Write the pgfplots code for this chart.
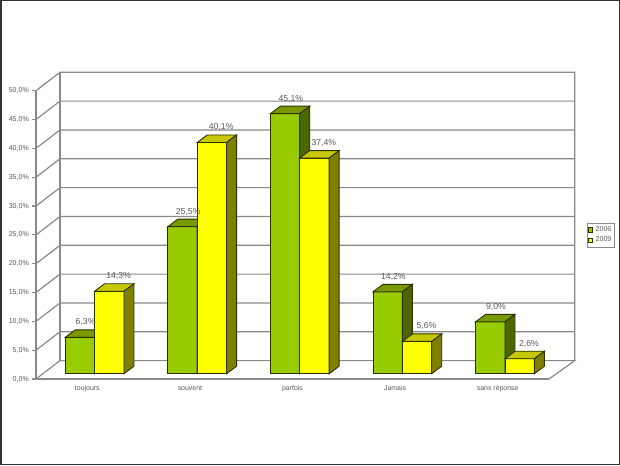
\documentclass[border=0pt]{standalone}
\usepackage{pgfplots}
\usepackage{fontspec}
\setmainfont{Liberation Sans}
\pgfplotsset{compat=1.18}
\definecolor{gridc}{HTML}{8A8A8A}
\definecolor{txt}{HTML}{5A5A5A}
\definecolor{edge}{HTML}{2A3300}
\definecolor{gfront}{HTML}{99CC00}
\definecolor{gtop}{HTML}{7A9900}
\definecolor{gside}{HTML}{4D6600}
\definecolor{yfront}{HTML}{FFFF00}
\definecolor{ytop}{HTML}{C8C800}
\definecolor{yside}{HTML}{808000}
\newlength{\px}\setlength{\px}{0.75pt}
% depth faces of one bar: x of the bar's left edge, value, top colour, side colour
\newcommand{\depthfaces}[4]{%
  \pgfmathsetmacro{\xa}{#1}%
  \pgfmathsetmacro{\xb}{#1+0.2865}%
  \pgfmathsetmacro{\xc}{#1+0.2865+0.0975}%
  \pgfmathsetmacro{\xd}{#1+0.0975}%
  \pgfmathsetmacro{\yt}{#2+1.3}%
  \addplot[forget plot,draw=edge,line width=0.9\px,fill=#3] coordinates {(\xa,#2)(\xb,#2)(\xc,\yt)(\xd,\yt)} -- cycle;
  \addplot[forget plot,draw=edge,line width=0.9\px,fill=#4] coordinates {(\xb,#2)(\xc,\yt)(\xc,1.3)(\xb,0)} -- cycle;
}
\begin{document}
\begin{tikzpicture}[x=\px,y=\px]
\fill[white] (0,0) rectangle (620,465);
\draw[black!80,line width=1.5\px] (0.75,0.75) rectangle (619.25,464.25);
\begin{axis}[
  at={(36\px,86\px)},anchor=south west,
  scale only axis,width=513\px,height=288.3\px,
  xmin=-0.5,xmax=4.5,ymin=0,ymax=50,clip=false,
  axis x line*=bottom,axis y line*=left,
  axis line style={gridc,line width=1.2\px,-},
  tick style={gridc,line width=1.2\px},
  tick align=outside,
  ytick={0,5,...,50},
  major tick length=4.5\px,
  y tick label style={font=\fontsize{5.3pt}{6pt}\selectfont,text=txt,inner sep=0pt,xshift=-2.4\px},
  yticklabel={\pgfmathprintnumber{\tick}\%},
  /pgf/number format/.cd,use comma,fixed,fixed zerofill,precision=1,assume math mode=true,
  /pgfplots/.cd,
  xtick={0,1,2,3,4},
  xticklabels={toujours,souvent,parfois,Jamais,sans réponse},
  x tick label style={font=\fontsize{5.2pt}{6pt}\selectfont,text=txt,inner sep=0pt,yshift=-2\px},
  x tick style={draw=none},
  extra x ticks={-0.5,0.5,1.5,2.5,3.5,4.5},
  extra x tick labels={},
  extra x tick style={tick style={gridc,line width=1.2\px},major tick length=4\px},
]
\addplot[gridc,line width=1.2\px] coordinates {(-0.5,0)(-0.266,3.19)(4.7505,3.19)(4.5,0)};
\addplot[gridc,line width=1.2\px] coordinates {(-0.5,5)(-0.266,8.19)(4.7505,8.19)};
\addplot[gridc,line width=1.2\px] coordinates {(-0.5,10)(-0.266,13.19)(4.7505,13.19)};
\addplot[gridc,line width=1.2\px] coordinates {(-0.5,15)(-0.266,18.19)(4.7505,18.19)};
\addplot[gridc,line width=1.2\px] coordinates {(-0.5,20)(-0.266,23.19)(4.7505,23.19)};
\addplot[gridc,line width=1.2\px] coordinates {(-0.5,25)(-0.266,28.19)(4.7505,28.19)};
\addplot[gridc,line width=1.2\px] coordinates {(-0.5,30)(-0.266,33.19)(4.7505,33.19)};
\addplot[gridc,line width=1.2\px] coordinates {(-0.5,35)(-0.266,38.19)(4.7505,38.19)};
\addplot[gridc,line width=1.2\px] coordinates {(-0.5,40)(-0.266,43.19)(4.7505,43.19)};
\addplot[gridc,line width=1.2\px] coordinates {(-0.5,45)(-0.266,48.19)(4.7505,48.19)};
\addplot[gridc,line width=1.2\px] coordinates {(-0.5,50)(-0.266,53.19)(4.7505,53.19)(4.7505,3.19)};
\addplot[gridc,line width=1.2\px] coordinates {(-0.266,3.19)(-0.266,53.19)};
\end{axis}
\begin{axis}[
  at={(43.3\px,91.3\px)},anchor=south west,
  scale only axis,width=513\px,height=288.3\px,
  xmin=-0.5,xmax=4.5,ymin=0,ymax=50,clip=false,
  hide axis,
  /pgf/number format/.cd,use comma,fixed,fixed zerofill,precision=1,assume math mode=true,
  /pgfplots/.cd,
  legend style={at={(543.4\px,151\px)},anchor=north west,draw=gridc,line width=0.8\px,
    fill=white,font=\fontsize{5.3pt}{6pt}\selectfont,text=txt,inner sep=0.6\px,
    row sep=-1.6\px,column sep=0pt,cells={anchor=west}},
  legend cell align=left,
]
\addplot[ybar,bar width=0.2865,bar shift=-0.1433,draw=edge,line width=0.9\px,fill=gfront,
  nodes near coords={\pgfmathprintnumber{\pgfplotspointmeta}\%},
  every node near coord/.style={font=\fontsize{6.5pt}{7pt}\selectfont,text=txt,inner sep=0pt,
    anchor=south,xshift=-9\px,yshift=11\px},
  legend image code/.code={\draw[edge,line width=0.8\px,fill=gfront] (0,-2.2\px) rectangle (4.5\px,2.2\px);}]
  coordinates {(0,6.3)(1,25.5)(2,45.1)(3,14.2)(4,9.0)};
\addlegendentry{2006}
\depthfaces{-0.2866}{6.3}{gtop}{gside}
\depthfaces{0.7134}{25.5}{gtop}{gside}
\depthfaces{1.7134}{45.1}{gtop}{gside}
\depthfaces{2.7134}{14.2}{gtop}{gside}
\depthfaces{3.7134}{9.0}{gtop}{gside}
\addplot[ybar,bar width=0.2865,bar shift=0.1433,draw=edge,line width=0.9\px,fill=yfront,
  nodes near coords={\pgfmathprintnumber{\pgfplotspointmeta}\%},
  every node near coord/.style={font=\fontsize{6.5pt}{7pt}\selectfont,text=txt,inner sep=0pt,
    anchor=south,xshift=24\px,yshift=11\px},
  legend image code/.code={\draw[edge,line width=0.8\px,fill=yfront] (0,-2.2\px) rectangle (4.5\px,2.2\px);}]
  coordinates {(0,14.3)(1,40.1)(2,37.4)(3,5.6)(4,2.6)};
\addlegendentry{2009}
\depthfaces{0}{14.3}{ytop}{yside}
\depthfaces{1}{40.1}{ytop}{yside}
\depthfaces{2}{37.4}{ytop}{yside}
\depthfaces{3}{5.6}{ytop}{yside}
\depthfaces{4}{2.6}{ytop}{yside}
\end{axis}
\end{tikzpicture}
\end{document}
